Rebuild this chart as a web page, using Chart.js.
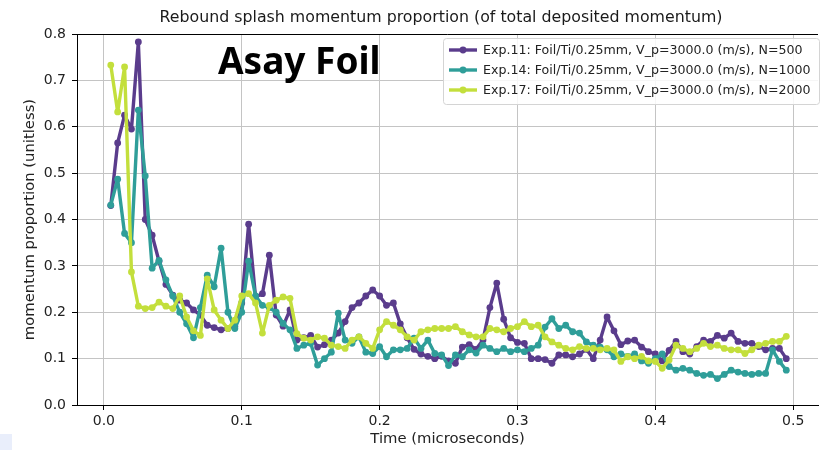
<!DOCTYPE html>
<html>
<head>
<meta charset="utf-8">
<script src="https://cdn.jsdelivr.net/npm/chart.js"></script>
<style>
  body { margin: 0; background: #fff; }
  #wrap { position: relative; width: 822px; height: 450px; }
</style>
</head>
<body>
<div id="wrap"><canvas id="chart" width="822" height="450"></canvas></div>
<script>
// time axis (microseconds)
var timeValues = [0.005, 0.010, 0.015, 0.020, 0.025, 0.030, 0.035, 0.040, 0.045, 0.050,
  0.055, 0.060, 0.065, 0.070, 0.075, 0.080, 0.085, 0.090, 0.095, 0.100,
  0.105, 0.110, 0.115, 0.120, 0.125, 0.130, 0.135, 0.140, 0.145, 0.150,
  0.155, 0.160, 0.165, 0.170, 0.175, 0.180, 0.185, 0.190, 0.195, 0.200,
  0.205, 0.210, 0.215, 0.220, 0.225, 0.230, 0.235, 0.240, 0.245, 0.250,
  0.255, 0.260, 0.265, 0.270, 0.275, 0.280, 0.285, 0.290, 0.295, 0.300,
  0.305, 0.310, 0.315, 0.320, 0.325, 0.330, 0.335, 0.340, 0.345, 0.350,
  0.355, 0.360, 0.365, 0.370, 0.375, 0.380, 0.385, 0.390, 0.395, 0.400,
  0.405, 0.410, 0.415, 0.420, 0.425, 0.430, 0.435, 0.440, 0.445, 0.450,
  0.455, 0.460, 0.465, 0.470, 0.475, 0.480, 0.485, 0.490, 0.495]

var exp11 = [0.43, 0.565, 0.625, 0.595, 0.783, 0.40, 0.366, 0.31, 0.26, 0.237,
  0.226, 0.22, 0.205, 0.194, 0.172, 0.167, 0.162, 0.165, 0.17, 0.22,
  0.39, 0.233, 0.24, 0.323, 0.194, 0.17, 0.205, 0.14, 0.145, 0.15,
  0.125, 0.13, 0.14, 0.155, 0.18, 0.21, 0.22, 0.235, 0.248, 0.235,
  0.215, 0.22, 0.175, 0.145, 0.12, 0.11, 0.105, 0.10, 0.105, 0.095,
  0.09, 0.125, 0.13, 0.12, 0.14, 0.21, 0.263, 0.185, 0.145, 0.135,
  0.133, 0.10, 0.10, 0.098, 0.09, 0.108, 0.108, 0.104, 0.11, 0.12,
  0.10, 0.14, 0.19, 0.16, 0.13, 0.138, 0.14, 0.125, 0.115, 0.11,
  0.095, 0.118, 0.137, 0.115, 0.11, 0.126, 0.14, 0.137, 0.15, 0.144,
  0.155, 0.137, 0.133, 0.133, 0.126, 0.119, 0.122, 0.122, 0.10]

var exp14 = [0.431, 0.487, 0.37, 0.35, 0.636, 0.494, 0.295, 0.312, 0.27, 0.235,
  0.2, 0.175, 0.145, 0.21, 0.28, 0.255, 0.338, 0.2, 0.165, 0.2,
  0.31, 0.235, 0.215, 0.21, 0.2, 0.176, 0.162, 0.122, 0.129, 0.133,
  0.086, 0.10, 0.114, 0.198, 0.14, 0.133, 0.147, 0.114, 0.111, 0.126,
  0.104, 0.119, 0.119, 0.122, 0.144, 0.122, 0.14, 0.111, 0.108, 0.085,
  0.108, 0.104, 0.119, 0.112, 0.129, 0.122, 0.115, 0.122, 0.115, 0.119,
  0.115, 0.122, 0.129, 0.168, 0.186, 0.165, 0.172, 0.158, 0.155, 0.136,
  0.129, 0.125, 0.119, 0.104, 0.11, 0.105, 0.11, 0.095, 0.09, 0.10,
  0.11, 0.083, 0.075, 0.079, 0.075, 0.068, 0.064, 0.066, 0.057, 0.066,
  0.075, 0.071, 0.068, 0.066, 0.068, 0.068, 0.119, 0.094, 0.075]

var exp17 = [0.733, 0.632, 0.729, 0.287, 0.213, 0.208, 0.21, 0.222, 0.213, 0.208,
  0.235, 0.19, 0.16, 0.15, 0.272, 0.205, 0.183, 0.165, 0.183, 0.235,
  0.24, 0.22, 0.155, 0.215, 0.226, 0.233, 0.23, 0.154, 0.144, 0.14,
  0.147, 0.144, 0.129, 0.126, 0.122, 0.14, 0.147, 0.133, 0.122, 0.162,
  0.18, 0.172, 0.162, 0.147, 0.14, 0.158, 0.162, 0.165, 0.165, 0.165,
  0.169, 0.158, 0.151, 0.147, 0.147, 0.165, 0.162, 0.158, 0.165, 0.169,
  0.18, 0.169, 0.172, 0.147, 0.136, 0.129, 0.122, 0.119, 0.126, 0.122,
  0.122, 0.119, 0.122, 0.119, 0.094, 0.104, 0.10, 0.105, 0.095, 0.094,
  0.079, 0.097, 0.129, 0.122, 0.115, 0.122, 0.133, 0.126, 0.129, 0.122,
  0.119, 0.119, 0.111, 0.119, 0.129, 0.133, 0.137, 0.137, 0.148]

var seriesLabels = ['Exp.11: Foil/Ti/0.25mm, V_p=3000.0 (m/s), N=500',
  'Exp.14: Foil/Ti/0.25mm, V_p=3000.0 (m/s), N=1000',
  'Exp.17: Foil/Ti/0.25mm, V_p=3000.0 (m/s), N=2000']
var seriesColors = ['#5a3c8c', '#2f9e99', '#c3df3c']
var xTicks = [0, 0.1, 0.2, 0.3, 0.4, 0.5]
var yTicks = [0, 0.1, 0.2, 0.3, 0.4, 0.5, 0.6, 0.7, 0.8]

var chartTitle = 'Rebound splash momentum proportion (of total deposited momentum)'
var overlayText = 'Asay Foil'

function toPoints(values) {
  var pts = []
  for (var i = 0; i < values.length; i++) {
    pts.push({ x: timeValues[i], y: values[i] })
  }
  return pts
}

var allSeries = [exp11, exp14, exp17]
var datasets = []
for (var s = 0; s < allSeries.length; s++) {
  datasets.push({
    label: seriesLabels[s],
    data: toPoints(allSeries[s]),
    borderColor: seriesColors[s],
    backgroundColor: seriesColors[s],
    borderWidth: 3.4,
    borderJoinStyle: 'round',
    borderCapStyle: 'round',
    pointRadius: 3.4,
    pointBorderWidth: 0,
    tension: 0,
    order: 3 - s
  })
}

// title, frame top line, "Asay Foil" and the legend box
var extrasPlugin = {
  id: 'extras',
  afterDraw: function (chart) {
    var ctx = chart.ctx
    var area = chart.chartArea
    ctx.save()

    // top spine
    ctx.strokeStyle = '#000'
    ctx.lineWidth = 1
    ctx.beginPath()
    ctx.moveTo(area.left, area.top + 0.5)
    ctx.lineTo(area.right, area.top + 0.5)
    ctx.stroke()

    // title
    ctx.fillStyle = '#1a1a1a'
    ctx.font = '15.8px "DejaVu Sans"'
    ctx.textAlign = 'center'
    ctx.textBaseline = 'middle'
    ctx.fillText(chartTitle, 441, 18)

    // big label
    ctx.fillStyle = '#000'
    ctx.font = 'bold 37px "Noto Sans"'
    ctx.textAlign = 'left'
    ctx.textBaseline = 'alphabetic'
    ctx.fillText(overlayText, 218, 74)

    // legend
    var bx = 443, by = 38, bw = 376, bh = 66
    ctx.fillStyle = 'rgba(255,255,255,0.85)'
    ctx.strokeStyle = '#d4d4d4'
    ctx.lineWidth = 1
    ctx.beginPath()
    ctx.roundRect(bx + 0.5, by + 0.5, bw, bh, 3)
    ctx.fill()
    ctx.stroke()

    ctx.font = '12.6px "DejaVu Sans"'
    ctx.textBaseline = 'middle'
    for (var i = 0; i < seriesLabels.length; i++) {
      var ry = 50 + i * 20
      ctx.strokeStyle = seriesColors[i]
      ctx.lineWidth = 3.4
      ctx.beginPath()
      ctx.moveTo(449, ry)
      ctx.lineTo(477, ry)
      ctx.stroke()
      ctx.fillStyle = seriesColors[i]
      ctx.beginPath()
      ctx.arc(463, ry, 3.4, 0, Math.PI * 2)
      ctx.fill()
      ctx.fillStyle = '#222'
      ctx.fillText(seriesLabels[i], 483, ry + 1)
    }

    // small pale square in the corner of the screenshot
    ctx.fillStyle = '#e9eefb'
    ctx.fillRect(0, 434, 12, 16)
    ctx.restore()
  }
}

var ctx = document.getElementById('chart').getContext('2d')
var myChart = new Chart(ctx, {
  type: 'line',
  data: { datasets: datasets },
  options: {
    responsive: false,
    animation: false,
    layout: { padding: { top: 34, left: 0, right: 0, bottom: 0 } },
    plugins: {
      legend: { display: false },
      tooltip: { enabled: false }
    },
    scales: {
      x: {
        type: 'linear',
        min: -0.0195,
        max: 0.518,
        afterFit: function (scale) { scale.height = 45 },
        afterBuildTicks: function (scale) {
          scale.ticks = xTicks.map(function (v) { return { value: v } })
        },
        ticks: {
          color: '#222',
          font: { family: 'DejaVu Sans', size: 14 },
          padding: 3,
          maxRotation: 0,
          callback: function (v) { return Number(v).toFixed(1) }
        },
        grid: { color: '#c4c4c4', lineWidth: 1, tickLength: 5, tickColor: '#000' },
        border: { color: '#000', width: 1 },
        title: {
          display: true,
          text: 'Time (microseconds)',
          color: '#222',
          font: { family: 'DejaVu Sans', size: 14.8 },
          padding: { top: 4, bottom: 2 }
        }
      },
      y: {
        min: 0,
        max: 0.8,
        afterFit: function (scale) { scale.width = 77 },
        afterBuildTicks: function (scale) {
          scale.ticks = yTicks.map(function (v) { return { value: v } })
        },
        ticks: {
          color: '#222',
          font: { family: 'DejaVu Sans', size: 14 },
          padding: 6,
          callback: function (v) { return Number(v).toFixed(1) }
        },
        grid: { color: '#c4c4c4', lineWidth: 1, tickLength: 5, tickColor: '#000' },
        border: { color: '#000', width: 1 },
        title: {
          display: true,
          text: 'momentum proportion (unitless)',
          color: '#222',
          font: { family: 'DejaVu Sans', size: 14.8 },
          padding: { top: 21, bottom: 0 }
        }
      }
    }
  },
  plugins: [extrasPlugin]
})
</script>
</body>
</html>
